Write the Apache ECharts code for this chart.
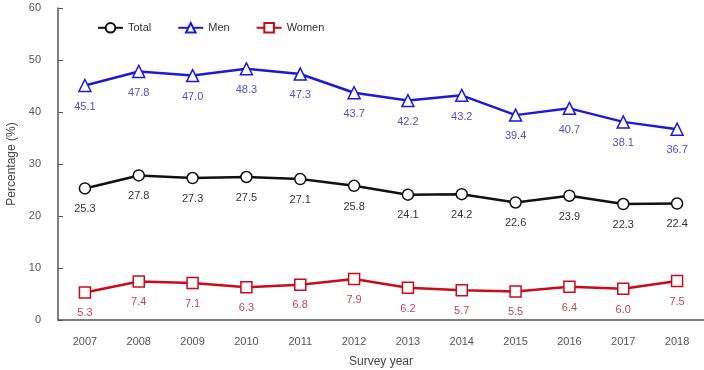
<!DOCTYPE html>
<html>
<head>
<meta charset="utf-8">
<style>html,body{margin:0;padding:0;background:#fff;}</style>
</head>
<body>
<div id="container" style="width:704px;height:370px;"></div>
<script src="https://cdn.jsdelivr.net/npm/echarts@6/dist/echarts.min.js"></script>
<script>
const years = ['2007','2008','2009','2010','2011','2012','2013','2014','2015','2016','2017','2018'];
const total = [25.3, 27.8, 27.3, 27.5, 27.1, 25.8, 24.1, 24.2, 22.6, 23.9, 22.3, 22.4];
const men = [45.1, 47.8, 47.0, 48.3, 47.3, 43.7, 42.2, 43.2, 39.4, 40.7, 38.1, 36.7];
const women = [5.3, 7.4, 7.1, 6.3, 6.8, 7.9, 6.2, 5.7, 5.5, 6.4, 6.0, 7.5];

const chart = echarts.init(document.getElementById('container'));
const font = 'Liberation Sans, Arial, sans-serif';

function makeSeries(name, data, color, symbol, size, labelColor) {
    return {
        name: name,
        type: 'line',
        data: data,
        symbol: symbol,
        symbolSize: size,
        lineStyle: { color: color, width: 2.5 },
        itemStyle: { color: '#fff', borderColor: color, borderWidth: 1.5 },
        label: {
            show: true,
            position: 'bottom',
            distance: 9,
            color: labelColor,
            fontSize: 11,
            fontFamily: font,
            formatter: function (p) { return p.value.toFixed(1); }
        }
    };
}

const option = {
    animation: false,
    grid: { left: 58, right: 0, top: 8, bottom: 50, containLabel: false, outerBoundsMode: 'none' },
    legend: {
        left: 92,
        top: 17,
        itemGap: 26,
        itemWidth: 25,
        itemHeight: 12,
        textStyle: { color: '#333', fontSize: 11, fontFamily: font },
        data: ['Total', 'Men', 'Women']
    },
    xAxis: {
        type: 'category',
        data: years,
        name: 'Survey year',
        nameLocation: 'middle',
        nameGap: 36,
        nameTextStyle: { color: '#444', fontSize: 12, fontFamily: font },
        axisLine: { lineStyle: { color: '#555', width: 1.5 } },
        axisTick: { inside: true, length: 5, lineStyle: { color: '#555' } },
        axisLabel: { color: '#555', fontSize: 11, fontFamily: font, margin: 16 }
    },
    yAxis: {
        type: 'value',
        min: 0,
        max: 60,
        interval: 10,
        name: 'Percentage (%)',
        nameLocation: 'middle',
        nameGap: 38,
        nameTextStyle: { color: '#444', fontSize: 12, fontFamily: font },
        axisLine: { show: true, lineStyle: { color: '#555', width: 1.5 } },
        axisTick: { show: true, inside: true, length: 5, lineStyle: { color: '#555' } },
        axisLabel: { color: '#555', fontSize: 11, fontFamily: font, margin: 17 },
        splitLine: { show: false }
    },
    series: [
        makeSeries('Total', total, '#111111', 'circle', 11, '#333333'),
        makeSeries('Men', men, '#1a1ad8', 'triangle', 12, '#5050c8'),
        makeSeries('Women', women, '#cc0a18', 'rect', 11, '#c04555')
    ]
};
chart.setOption(option);
</script>
</body>
</html>
